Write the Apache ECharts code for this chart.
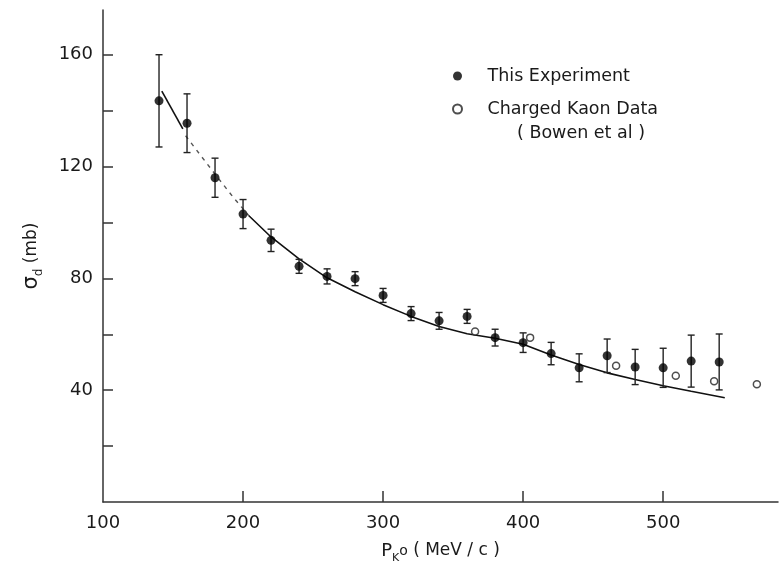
<!DOCTYPE html>
<html>
<head>
<meta charset="utf-8">
<script src="https://cdn.jsdelivr.net/npm/echarts@6/dist/echarts.min.js"></script>
<style>
html,body{margin:0;padding:0;background:#fff;}
#c{width:779px;height:562px;}
</style>
</head>
<body>
<div id="c"></div>
<script>
// ---- data ----
const expMomentum = [140,160,180,200,220,240,260,280,300,320,340,360,380,400,420,440,460,480,500,520,540];
const expSigma    = [143.5,135.5,116,103,93.6,84.3,80.7,79.9,73.9,67.4,64.8,66.4,58.8,57,53.1,48,52.3,48.3,48,50.4,50.1];
const expError    = [16.5,10.5,7,5.2,4,2.5,2.7,2.5,2.5,2.5,3,2.5,3,3.5,4,5,6,6.3,7,9.3,10];

const kaonMomentum = [365.7,405,466.4,509,536.4,566.9];
const kaonSigma    = [61,58.8,48.7,45.2,43.2,42.1];

const curveSolidA = [[142,147],[157,133.5]];
const curveDashed = [[159,131],[170,123.8],[180,117.3],[193,109],[204,102.5]];
const curveSolidB = [[204,102.5],[220,94.8],[240,87],[260,80.2],[280,75.2],[300,70.6],[320,66.4],[340,62.8],[360,60.2],[380,58.6],[400,56.4],[420,52.6],[440,49.2],[460,46.2],[480,43.8],[500,41.6],[520,39.6],[544,37.3]];

const xTickValues = [200,300,400,500];
const xLabelValues = [100,200,300,400,500];
const yTickValues = [20,40,60,80,100,120,140,160];
const yLabelValues = [40,80,120,160];

const FONT = 'DejaVu Sans';
const INK = '#1a1a1a';

const chart = echarts.init(document.getElementById('c'));

const expTriples = expMomentum.map((p,i)=>[p, expSigma[i], expError[i]]);
const expPoints = expMomentum.map((p,i)=>[p, expSigma[i]]);
const kaonPoints = kaonMomentum.map((p,i)=>[p, kaonSigma[i]]);

chart.setOption({
  animation:false,
  backgroundColor:'#fff',
  grid:{left:103, right:1, top:10, bottom:60, containLabel:false, outerBoundsMode:'none'},
  xAxis:{
    type:'value', min:100, max:582,
    axisLine:{show:true, onZero:false, lineStyle:{color:'#333', width:1.5}},
    axisTick:{show:true, inside:true, length:11, customValues:xTickValues, lineStyle:{color:'#333', width:1.5}},
    axisLabel:{customValues:xLabelValues, margin:12, color:INK, fontFamily:FONT, fontSize:18},
    splitLine:{show:false},
    name:'{P|P}{sub|K}{sup|o}{t| ( MeV / c )}',
    nameLocation:'middle', nameGap:36,
    nameTextStyle:{
      color:INK, fontFamily:FONT,
      rich:{
        P:{fontSize:18, fontFamily:FONT, color:INK, lineHeight:26, verticalAlign:'middle'},
        sub:{fontSize:11, fontFamily:FONT, color:INK, verticalAlign:'bottom', lineHeight:26},
        sup:{fontSize:14, fontFamily:FONT, color:INK, verticalAlign:'middle', lineHeight:26},
        t:{fontSize:17, fontFamily:FONT, color:INK, verticalAlign:'middle', lineHeight:26}
      }
    }
  },
  yAxis:{
    type:'value', min:0, max:176,
    axisLine:{show:true, onZero:false, lineStyle:{color:'#333', width:1.5}},
    axisTick:{show:true, inside:true, length:10, customValues:yTickValues, lineStyle:{color:'#333', width:1.5}},
    axisLabel:{customValues:yLabelValues, margin:10, color:INK, fontFamily:FONT, fontSize:18},
    splitLine:{show:false},
    name:'{s|σ}{sub|d}{t| (mb)}',
    nameLocation:'middle', nameGap:58, nameRotate:90,
    nameTextStyle:{
      color:INK, fontFamily:FONT,
      rich:{
        s:{fontSize:21, fontFamily:FONT, color:INK, lineHeight:26, verticalAlign:'middle'},
        sub:{fontSize:12, fontFamily:FONT, color:INK, verticalAlign:'bottom', lineHeight:26},
        t:{fontSize:17, fontFamily:FONT, color:INK, verticalAlign:'middle', lineHeight:26}
      }
    }
  },
  legend:{
    orient:'vertical', left:447, top:62, itemGap:15,
    itemWidth:50, itemHeight:9,
    data:['This Experiment','Charged Kaon Data'],
    textStyle:{color:INK, fontFamily:FONT, fontSize:17.5}
  },
  graphic:[{
    type:'text', left:517, top:124,
    style:{text:'( Bowen et al )', fill:INK, font:'17.5px "DejaVu Sans"'}
  }],
  series:[
    {type:'line', name:'curveA', data:curveSolidA, symbol:'none', silent:true,
     lineStyle:{color:'#111', width:1.6}, z:1},
    {type:'line', name:'curveDash', data:curveDashed, symbol:'none', silent:true,
     lineStyle:{color:'#555', width:1.4, type:[4,5]}, z:1},
    {type:'line', name:'curveB', data:curveSolidB, symbol:'none', silent:true,
     lineStyle:{color:'#111', width:1.6}, z:1},
    {type:'custom', name:'errors', data:expTriples, encode:{x:0,y:1}, z:2,
     renderItem:function(params, api){
       const x = api.value(0), y = api.value(1), e = api.value(2);
       const t = api.coord([x, y+e]);
       const b = api.coord([x, y-e]);
       const hw = 3.5;
       const st = {stroke:'#222', lineWidth:1.4};
       return {type:'group', children:[
         {type:'line', shape:{x1:t[0],y1:t[1],x2:b[0],y2:b[1]}, style:st},
         {type:'line', shape:{x1:t[0]-hw,y1:t[1],x2:t[0]+hw,y2:t[1]}, style:st},
         {type:'line', shape:{x1:b[0]-hw,y1:b[1],x2:b[0]+hw,y2:b[1]}, style:st}
       ]};
     }},
    {type:'scatter', name:'This Experiment', data:expPoints, symbol:'circle', symbolSize:9,
     itemStyle:{color:'#000'}, z:3},
    {type:'scatter', name:'Charged Kaon Data', data:kaonPoints, symbol:'circle', symbolSize:7,
     itemStyle:{color:'#fff', borderColor:'#222', borderWidth:1.5}, z:3}
  ]
});
</script>
</body>
</html>
